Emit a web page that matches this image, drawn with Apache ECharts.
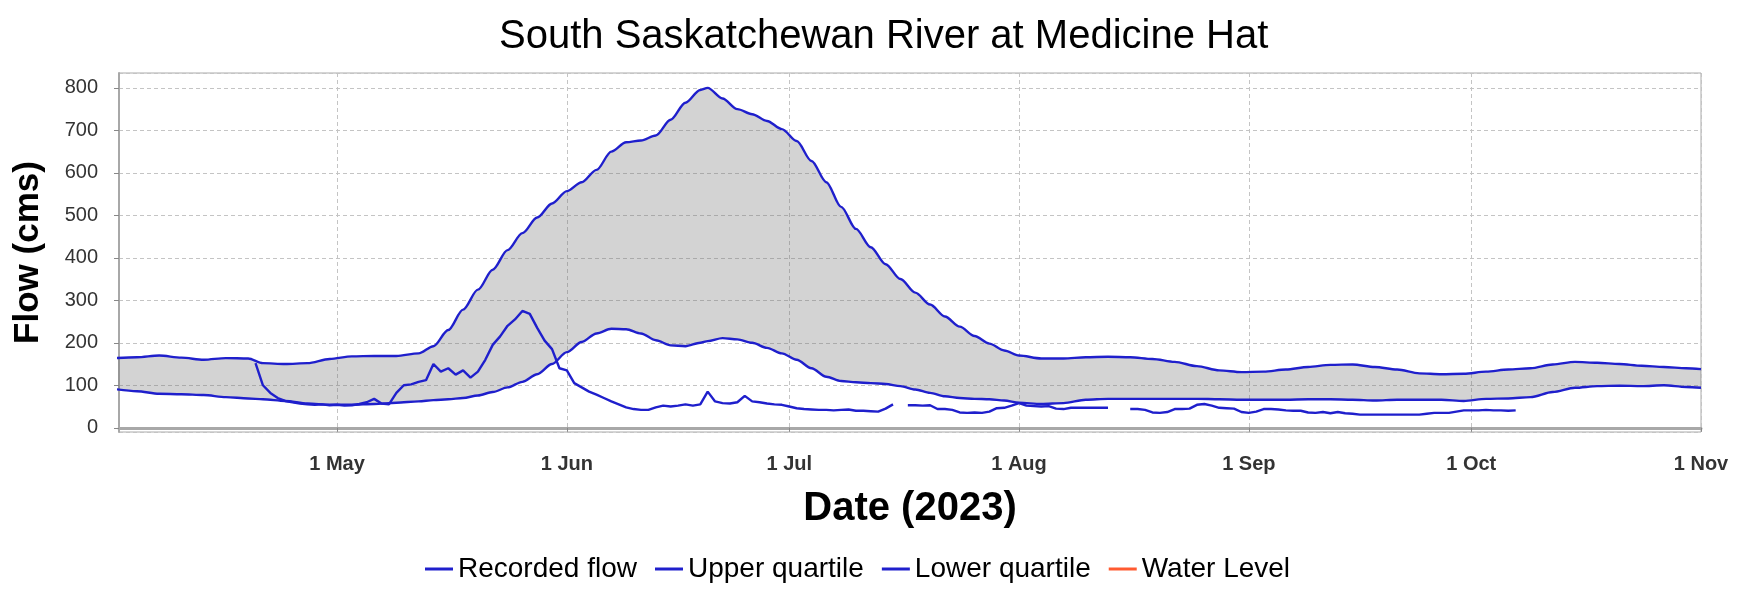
<!DOCTYPE html>
<html>
<head>
<meta charset="utf-8">
<title>South Saskatchewan River at Medicine Hat</title>
<script src="https://cdn.jsdelivr.net/npm/echarts@6/dist/echarts.min.js"></script>
<style>
  html, body { margin: 0; padding: 0; background: #fff; }
  #chart { width: 1741px; height: 591px; }
</style>
</head>
<body>
<div id="chart"></div>
<script>
// quartile band (cms)
const bandDates = [
  '2023-04-01', '2023-04-04', '2023-04-07', '2023-04-10', '2023-04-13', '2023-04-16', '2023-04-19', '2023-04-21',
  '2023-04-24', '2023-04-27', '2023-04-30', '2023-05-03', '2023-05-06', '2023-05-09', '2023-05-12', '2023-05-14',
  '2023-05-16', '2023-05-18', '2023-05-20', '2023-05-22', '2023-05-24', '2023-05-26', '2023-05-28', '2023-05-30',
  '2023-06-01', '2023-06-03', '2023-06-05', '2023-06-07', '2023-06-09', '2023-06-11', '2023-06-13', '2023-06-15',
  '2023-06-17', '2023-06-19', '2023-06-20', '2023-06-22', '2023-06-24', '2023-06-26', '2023-06-28', '2023-06-30',
  '2023-07-02', '2023-07-04', '2023-07-06', '2023-07-08', '2023-07-10', '2023-07-12', '2023-07-14', '2023-07-16',
  '2023-07-18', '2023-07-20', '2023-07-22', '2023-07-24', '2023-07-26', '2023-07-28', '2023-07-30', '2023-08-01',
  '2023-08-04', '2023-08-07', '2023-08-10', '2023-08-13', '2023-08-16', '2023-08-19', '2023-08-22', '2023-08-25',
  '2023-08-28', '2023-08-31', '2023-09-03', '2023-09-06', '2023-09-09', '2023-09-12', '2023-09-15', '2023-09-18',
  '2023-09-21', '2023-09-24', '2023-09-27', '2023-09-30', '2023-10-03', '2023-10-06', '2023-10-09', '2023-10-12',
  '2023-10-15', '2023-10-18', '2023-10-21', '2023-10-24', '2023-10-27', '2023-10-30', '2023-11-01'
];
const upperQuartile = [
  164, 166, 170, 165, 160, 164, 163, 152,
  150, 152, 162, 168, 169, 169, 175, 192,
  230, 278, 325, 372, 418, 458, 495, 528,
  557, 578, 607, 650, 672, 676, 688, 725,
  765, 795, 800, 775, 750, 738, 722, 703,
  675, 628, 578, 520, 468, 425, 385, 350,
  318, 290, 262, 238, 216, 198, 182, 170,
  163, 163, 166, 167, 166, 162, 155, 145,
  135, 131, 132, 137, 143, 148, 149, 143,
  137, 128, 126, 127, 132, 137, 140, 149,
  155, 153, 150, 146, 143, 140, 138
];
const lowerQuartile = [
  91, 86, 80, 79, 77, 72, 69, 67,
  63, 57, 54, 54, 56, 59, 62, 65,
  67, 70, 76, 84, 95, 108, 126, 150,
  178, 202, 222, 233, 232, 222, 206, 194,
  192, 200, 204, 211, 208, 200, 188, 175,
  160, 140, 120, 110, 107, 105, 103, 98,
  90, 82, 74, 70, 68, 67, 64, 59,
  56, 58, 66, 68, 68, 68, 68, 68,
  67, 66, 66, 66, 67, 67, 66, 64,
  66, 66, 66, 63, 68, 69, 72, 84,
  94, 98, 99, 98, 100, 96, 94
];

// recorded daily flow from 20 Apr to 8 Oct, null = missing
const recordedStart = '2023-04-20';
const recordedFlow = [
  152, 100, 82, 70, 63, 60, 57, 55, 54, 55, 53,                 // Apr 20-30
  54, 52, 53, 56, 60, 68, 57, 55, 82, 100, 102, 108, 112, 150, 132, 140,
  125, 135, 118, 132, 160, 195, 215, 240, 255, 275, 268, 235, 205, 185, 140, // May
  135, 105, 95, 85, 78, 70, 62, 55, 48, 44, 42, 42, 48, 52, 50,
  52, 55, 52, 55, 85, 62, 58, 57, 60, 75, 62, 60, 57, 55, 54,   // Jun
  50, 46, 44, 43, 42, 42, 41, 42, 43, 40, 40, 39, 38, 45, 55, null,
  53, 53, 52, 53, 44, 44, 42, 36, 35, 36, 35, 38, 46, 47, 52,   // Jul
  58, 52, 51, 50, 51, 45, 44, 47, 47, 47, 47, 47, 47, null, null, 44,
  44, 42, 36, 35, 37, 44, 44, 45, 54, 56, 52, 47, 46, 45, 37,   // Aug
  35, 38, 44, 44, 43, 41, 40, 40, 36, 35, 37, 34, 37, 34, 33,
  31, 31, 31, 31, 31, 31, 31, 31, 31, 33, 35, 35, 35, 38,       // Sep
  41, 41, 41, 42, 41, 41, 40, 41                                // Oct 1-8
];
const waterLevel = [];

const monthNames = ['Jan', 'Feb', 'Mar', 'Apr', 'May', 'Jun', 'Jul', 'Aug', 'Sep', 'Oct', 'Nov', 'Dec'];
const DAY = 24 * 3600 * 1000;

const lineBlue = '#1f1fcc';
const font = 'Liberation Sans, Arial, sans-serif';

function recordedData() {
  const t0 = echarts.time.parse(recordedStart).getTime();
  return recordedFlow.map((v, i) => [t0 + i * DAY, v]);
}

const upperData = bandDates.map((d, i) => [d, upperQuartile[i]]);
const lowerData = bandDates.map((d, i) => [d, lowerQuartile[i]]);
const bandHeight = bandDates.map((d, i) => [d, upperQuartile[i] - lowerQuartile[i]]);

const chart = echarts.init(document.getElementById('chart'));
chart.setOption({
  animation: false,
  backgroundColor: '#fff',
  title: {
    text: 'South Saskatchewan River at Medicine Hat',
    left: 494,
    top: 12,
    textStyle: { fontFamily: font, fontSize: 40, fontWeight: 'normal', color: '#000' },
  },
  legend: {
    data: ['Recorded flow', 'Upper quartile', 'Lower quartile', 'Water Level'],
    left: 420,
    top: 550,
    icon: 'rect',
    itemWidth: 28,
    itemHeight: 3,
    itemGap: 18,
    textStyle: { fontFamily: font, fontSize: 28, color: '#000' },
  },
  grid: {
    left: 119,
    right: 40,
    top: 73,
    bottom: 159,
    show: true,
    borderColor: '#aaa',
    borderWidth: 1,
  },
  xAxis: {
    type: 'time',
    min: new Date(2023, 3, 1, 14).getTime(),
    max: new Date(2023, 10, 1).getTime(),
    minInterval: 28 * DAY,
    maxInterval: 31 * DAY,
    name: 'Date (2023)',
    nameLocation: 'middle',
    nameGap: 57,
    nameTextStyle: { fontFamily: font, fontSize: 40, fontWeight: 'bold', color: '#000' },
    axisLine: { lineStyle: { color: '#a8a8a8', width: 3 } },
    axisTick: { length: 4, lineStyle: { color: '#888' } },
    axisLabel: {
      margin: 22,
      fontFamily: font,
      fontSize: 20,
      fontWeight: 'bold',
      color: '#333',
      hideOverlap: false,
      showMinLabel: false,
      showMaxLabel: true,
      formatter: (val) => {
        const d = new Date(val);
        if (d.getDate() !== 1 || d.getHours() !== 0) return '';
        return d.getDate() + ' ' + monthNames[d.getMonth()];
      },
    },
    splitLine: { show: true, lineStyle: { color: '#c4c4c4', width: 1, type: [4, 3] } },
  },
  yAxis: {
    type: 'value',
    min: -10,
    max: 835,
    minInterval: 100,
    maxInterval: 100,
    name: 'Flow (cms)',
    nameLocation: 'middle',
    nameGap: 73,
    nameTextStyle: { fontFamily: font, fontSize: 35, fontWeight: 'bold', color: '#000' },
    axisLine: { show: true, lineStyle: { color: '#a8a8a8', width: 2 } },
    axisTick: { show: true, length: 5, lineStyle: { color: '#888' } },
    axisLabel: {
      margin: 21,
      fontFamily: font,
      fontSize: 20,
      color: '#333',
      showMinLabel: false,
      showMaxLabel: false,
    },
    splitLine: { show: true, lineStyle: { color: '#c4c4c4', width: 1, type: [4, 3] } },
  },
  series: [
    // band: invisible base at the lower quartile, gray fill stacked up to the upper one
    {
      name: 'band base',
      type: 'line',
      stack: 'band',
      data: lowerData,
      symbol: 'none',
      lineStyle: { opacity: 0 },
      silent: true,
    },
    {
      name: 'band',
      type: 'line',
      stack: 'band',
      data: bandHeight,
      symbol: 'none',
      lineStyle: { opacity: 0 },
      areaStyle: { color: 'rgba(110,110,110,0.3)', opacity: 1 },
      smooth: 0.3,
      smoothMonotone: 'x',
      silent: true,
    },
    {
      name: 'Upper quartile',
      type: 'line',
      data: upperData,
      symbol: 'none',
      smooth: 0.3,
      smoothMonotone: 'x',
      color: lineBlue,
      lineStyle: { color: lineBlue, width: 2.4 },
    },
    {
      name: 'Lower quartile',
      type: 'line',
      data: lowerData,
      symbol: 'none',
      smooth: 0.3,
      smoothMonotone: 'x',
      color: lineBlue,
      lineStyle: { color: lineBlue, width: 2.4 },
    },
    {
      name: 'Recorded flow',
      type: 'line',
      data: recordedData(),
      symbol: 'none',
      connectNulls: false,
      color: lineBlue,
      lineStyle: { color: lineBlue, width: 2.4 },
    },
    {
      name: 'Water Level',
      type: 'line',
      data: waterLevel,
      symbol: 'none',
      color: '#ff5a30',
      lineStyle: { color: '#ff5a30', width: 2 },
    },
  ],
});
</script>
</body>
</html>
